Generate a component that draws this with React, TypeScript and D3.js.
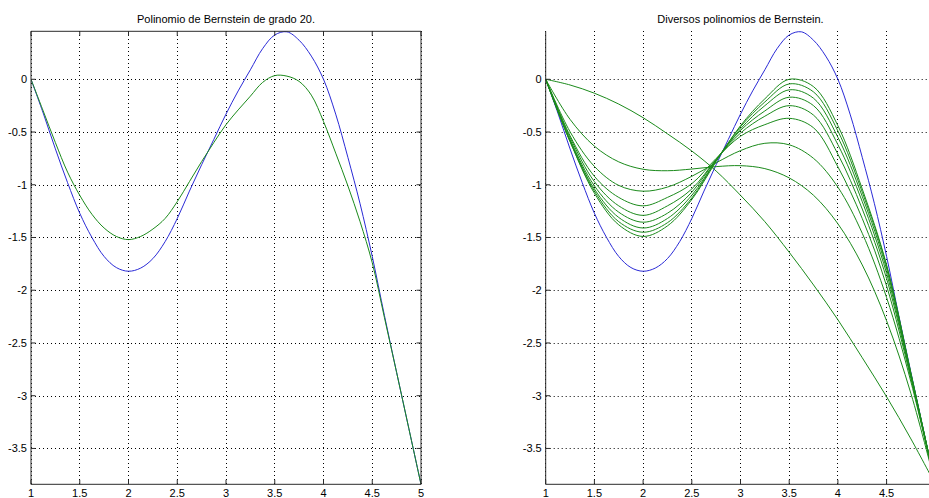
import React from 'react';
import * as d3 from 'd3';

const xFine = [1, 1.125, 1.25, 1.375, 1.5, 1.625, 1.75, 1.875, 2, 2.125, 2.25, 2.375, 2.5, 2.625, 2.75, 2.875, 3,
  3.125, 3.25, 3.375, 3.5, 3.625, 3.75, 3.875, 4, 4.125, 4.25, 4.375, 4.5, 4.625, 4.75, 4.875, 5];
const xCoarse = [1, 1.25, 1.5, 1.75, 2, 2.25, 2.5, 2.75, 3, 3.25, 3.5, 3.75, 4, 4.25, 4.5, 4.75, 5];

// the function (blue)
const blueY = [0, -0.32, -0.66, -0.98, -1.27, -1.5, -1.68, -1.785, -1.82, -1.79, -1.7, -1.54, -1.32, -1.06, -0.81, -0.57, -0.33,
  -0.11, 0.09, 0.29, 0.42, 0.45, 0.37, 0.22, 0, -0.33, -0.74, -1.18, -1.68, -2.24, -2.78, -3.31, -3.84];
// degree 20 (left panel, green)
const green20Y = [0, -0.3, -0.6, -0.88, -1.1, -1.28, -1.41, -1.49, -1.52, -1.49, -1.42, -1.32, -1.16, -0.97, -0.78, -0.6, -0.43,
  -0.29, -0.16, -0.03, 0.035, 0.03, -0.02, -0.15, -0.4, -0.7, -1.01, -1.35, -1.74, -2.26, -2.78, -3.31, -3.84];

// right panel, green curves (low to high degree)
const bern2 = [0, -0.054, -0.132, -0.235, -0.364, -0.517, -0.68, -0.87, -1.1, -1.35, -1.64, -1.95, -2.28, -2.64, -3.01, -3.41, -3.84];
const bern4 = [0, -0.38, -0.634, -0.783, -0.853, -0.867, -0.851, -0.828, -0.819, -0.847, -0.935, -1.1, -1.37, -1.76, -2.29, -2.98, -3.84];
const bern6 = [0, -0.497, -0.826, -1.006, -1.061, -1.022, -0.92, -0.792, -0.676, -0.607, -0.621, -0.75, -1.023, -1.46, -2.07, -2.87, -3.84];
const bern8 = [0, -0.535, -0.92, -1.12, -1.2, -1.12, -0.99, -0.75, -0.54, -0.43, -0.37, -0.46, -0.83, -1.32, -1.96, -2.84, -3.84];
const bern10 = [0, -0.55, -0.97, -1.2, -1.29, -1.2, -1.04, -0.76, -0.51, -0.35, -0.25, -0.34, -0.71, -1.23, -1.89, -2.82, -3.84];
const bern12 = [0, -0.57, -1.01, -1.26, -1.355, -1.27, -1.07, -0.76, -0.485, -0.3, -0.17, -0.25, -0.62, -1.16, -1.84, -2.81, -3.84];
const bern14 = [0, -0.58, -1.04, -1.31, -1.41, -1.32, -1.1, -0.77, -0.47, -0.25, -0.1, -0.18, -0.55, -1.11, -1.8, -2.8, -3.84];
const bern16 = [0, -0.59, -1.06, -1.35, -1.45, -1.36, -1.125, -0.77, -0.45, -0.215, -0.044, -0.12, -0.49, -1.07, -1.77, -2.79, -3.84];
const bern18 = [0, -0.59, -1.08, -1.38, -1.49, -1.39, -1.14, -0.78, -0.44, -0.185, 0, -0.07, -0.44, -1.04, -1.76, -2.79, -3.84];

const xTicks = [1, 1.5, 2, 2.5, 3, 3.5, 4, 4.5, 5];
const yTicks = [-3.5, -3, -2.5, -2, -1.5, -1, -0.5, 0];
const yMin = -3.84;
const yMax = 0.455;

const FONT = '"Liberation Sans", Arial, Helvetica, sans-serif';
const BLUE = '#2a2ad6';
const GREEN = '#1b8a1b';
const AXIS = '#2b2b2b';
const SVG_W = 929;

const zip = (xs, ys) => xs.map((x, i) => [x, ys[i]]);

function Panel({ id, x0, x1, title, box, series }) {
  const x = d3.scaleLinear().domain([1, 5]).range([x0, x1]);
  const y = d3.scaleLinear().domain([yMin, yMax]).range([484.3, 31.3]);
  const top = y(yMax);
  const bottom = y(yMin);
  const line = d3
    .line()
    .x(d => x(d[0]))
    .y(d => y(d[1]))
    .curve(d3.curveCatmullRom.alpha(0.5));
  const tl = 4.5;

  return (
    <g>
      <defs>
        <clipPath id={id}>
          <rect x={x0} y={top - 1} width={x1 - x0} height={bottom - top + 2} />
        </clipPath>
      </defs>
      {/* dotted grid */}
      {xTicks.map(t => (
        <line key={'gx' + t} x1={x(t)} x2={x(t)} y1={top} y2={bottom}
          stroke="#000" strokeWidth={1} strokeDasharray="1,3" shapeRendering="crispEdges" />
      ))}
      {yTicks.map(t => (
        <line key={'gy' + t} x1={x0} x2={x1} y1={Math.round(y(t)) + 0.5} y2={Math.round(y(t)) + 0.5}
          stroke="#000" strokeWidth={1} strokeDasharray="1,3" />
      ))}
      <g clipPath={`url(#${id})`} fill="none" strokeWidth={1}>
        {series.map((s, i) => (
          <path key={i} d={line(zip(s.x, s.y))} stroke={s.color} />
        ))}
      </g>
      {/* axes */}
      <line x1={x0} x2={x0} y1={top} y2={bottom} stroke={AXIS} />
      <line x1={x0} x2={x1} y1={bottom} y2={bottom} stroke={AXIS} />
      {box && <line x1={x0} x2={x1} y1={top} y2={top} stroke={AXIS} />}
      {box && <line x1={x1} x2={x1} y1={top} y2={bottom} stroke={AXIS} />}
      {xTicks.map(t => (
        <g key={'tx' + t}>
          <line x1={x(t)} x2={x(t)} y1={bottom} y2={bottom - tl} stroke={AXIS} />
          {box && <line x1={x(t)} x2={x(t)} y1={top} y2={top + tl} stroke={AXIS} />}
          {x(t) + 4 < SVG_W && (
            <text x={x(t)} y={497} textAnchor="middle" fontSize={11} fontFamily={FONT} fill="#000">
              {t}
            </text>
          )}
        </g>
      ))}
      {yTicks.map(t => (
        <g key={'ty' + t}>
          <line x1={x0} x2={x0 + tl} y1={y(t)} y2={y(t)} stroke={AXIS} />
          {box && <line x1={x1} x2={x1 - tl} y1={y(t)} y2={y(t)} stroke={AXIS} />}
          <text x={x0 - 4} y={y(t) + 4} textAnchor="end" fontSize={11} fontFamily={FONT} fill="#000">
            {t}
          </text>
        </g>
      ))}
      <text x={(x0 + x1) / 2} y={23} textAnchor="middle" fontSize={11} fontFamily={FONT} fill="#000">
        {title}
      </text>
    </g>
  );
}

export default function App() {
  const leftSeries = [
    { x: xFine, y: blueY, color: BLUE },
    { x: xFine, y: green20Y, color: GREEN }
  ];
  const rightSeries = [
    { x: xFine, y: blueY, color: BLUE },
    ...[bern2, bern4, bern6, bern8, bern10, bern12, bern14, bern16, bern18].map(b => ({
      x: xCoarse,
      y: b,
      color: GREEN
    }))
  ];

  return (
    <div style={{ position: 'absolute', left: 0, top: 0 }}>
      <svg width={SVG_W} height={498} style={{ display: 'block', background: 'white' }}>
        <rect width={SVG_W} height={498} fill="white" />
        <Panel id="clipL" x0={31} x1={421} title="Polinomio de Bernstein de grado 20." box={true} series={leftSeries} />
        <Panel id="clipR" x0={545.7} x1={935.3} title="Diversos polinomios de Bernstein." box={false} series={rightSeries} />
      </svg>
    </div>
  );
}
